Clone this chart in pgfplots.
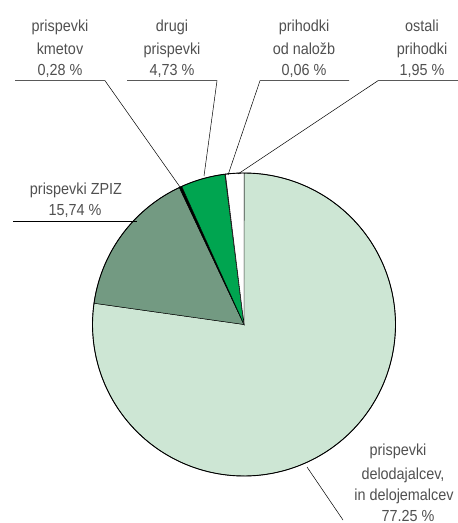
\documentclass[border=0pt]{standalone}
\usepackage{pgfplots}
\usepackage{pgfplotstable}
\pgfplotsset{compat=1.18}
\usepackage{fontspec}
\setmainfont[FakeStretch=0.9]{Liberation Sans}
\definecolor{lightg}{RGB}{205,230,212}
\definecolor{zpiz}{RGB}{115,154,130}
\definecolor{drugi}{RGB}{0,165,80}
\definecolor{txt}{RGB}{80,80,80}

\pgfplotstableread{
val col
77.25 lightg
15.74 zpiz
0.28 black
4.73 drugi
0.06 white
1.95 white
}\piedata

\newcommand\lbl[3]{\node[anchor=base,text=txt,inner sep=0pt,font=\fontsize{16bp}{18bp}\selectfont] at (axis cs:#1,#2) {#3};}

\begin{document}
\begin{tikzpicture}
\def\pietotal{0}
\pgfplotsforeachungrouped \i in {0,...,5}{%
  \pgfplotstablegetelem{\i}{val}\of\piedata
  \pgfmathsetmacro\pietotal{\pietotal+\pgfplotsretval}}
\def\cumang{90}
\begin{axis}[at={(0,0)},anchor=south west,scale only axis,width=458bp,height=523bp,
  xmin=0,xmax=458,ymin=0,ymax=523,y dir=reverse,hide axis,clip=false]
\pgfplotsforeachungrouped \i in {0,...,5}{%
  \pgfplotstablegetelem{\i}{val}\of\piedata
  \pgfmathsetmacro\endang{\cumang-(\pgfplotsretval/\pietotal)*360}
  \pgfplotstablegetelem{\i}{col}\of\piedata
  \edef\temp{\noexpand\addplot[fill=\pgfplotsretval, draw=black, line width=0.45pt, domain=\endang:\cumang, samples=80, variable=\noexpand\t] ({244+151.5*cos(\noexpand\t)},{324.5-151.5*sin(\noexpand\t)}) -- (axis cs:244,324.5) -- cycle;}%
  \temp
  \let\cumang\endang
}
\addplot[draw=black, line width=0.9pt, domain=0:360, samples=240, variable=\t] ({244+151.5*cos(\t)},{324.5-151.5*sin(\t)});

% labels
\lbl{60}{32}{prispevki}
\lbl{60}{54.5}{kmetov}
\lbl{60}{76}{0,28 \%}
\draw[black,line width=0.5pt] (axis cs:15,80.7) -- (axis cs:105,80.7) -- (axis cs:180,187);

\lbl{172}{32}{drugi}
\lbl{172}{54.5}{prispevki}
\lbl{172}{76}{4,73 \%}
\draw[black,line width=0.5pt] (axis cs:127,80.7) -- (axis cs:217,80.7) -- (axis cs:204,176);

\lbl{304}{32}{prihodki}
\lbl{304}{54.5}{od naložb}
\lbl{304}{76}{0,06 \%}
\draw[black,line width=0.5pt] (axis cs:349,80.7) -- (axis cs:260,80.7) -- (axis cs:228,175);

\lbl{422}{32}{ostali}
\lbl{422}{54.5}{prihodki}
\lbl{422}{76}{1,95 \%}
\draw[black,line width=0.5pt] (axis cs:458,80.7) -- (axis cs:378,80.7) -- (axis cs:238,174);

\lbl{76}{194}{prispevki ZPIZ}
\lbl{75}{215.5}{15,74 \%}
\draw[black,line width=0.5pt] (axis cs:13,221) -- (axis cs:137,221);

\lbl{398}{455.5}{prispevki}
\lbl{403}{479}{delodajalcev,}
\lbl{404}{500}{in delojemalcev}
\lbl{408}{521}{77.25 \%}
\draw[black,line width=0.5pt] (axis cs:307,467) -- (axis cs:343,520);
\end{axis}
\pgfresetboundingbox
\path (0,0) rectangle (458bp,523bp);
\end{tikzpicture}
\end{document}
